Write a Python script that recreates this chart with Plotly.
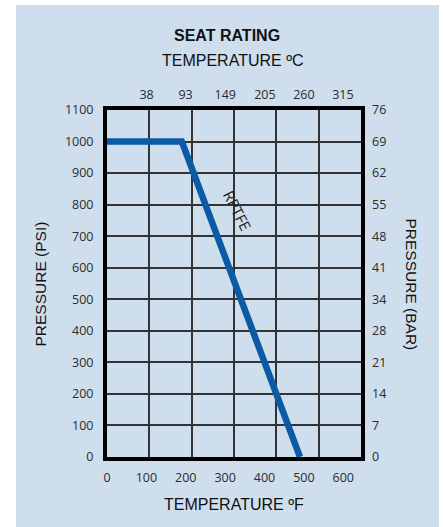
import plotly.graph_objects as go

# ---- data ----
temp_f = [0, 190, 490]
pressure_psi = [1000, 1000, 0]
series_name = "RPTFE"
series_label_temp_f = 332
series_label_psi = 780

f_ticks = [0, 100, 200, 300, 400, 500, 600]
c_labels = [38, 93, 149, 205, 260, 315]
psi_ticks = [0, 100, 200, 300, 400, 500, 600, 700, 800, 900, 1000, 1100]
bar_labels = [0, 7, 14, 21, 28, 34, 41, 48, 55, 62, 69, 76]

title_main = "SEAT RATING"
title_top = "TEMPERATURE ºC"
title_bottom = "TEMPERATURE ºF"
title_left = "PRESSURE (PSI)"
title_right = "PRESSURE (BAR)"

# ---- style ----
BG = "#cedeed"
LINE_BLUE = "#0b5aa6"
GRID = "#333333"
TICK_FONT = dict(family="Open Sans", size=12.5, color="#2b2b2b")
TITLE_FONT = dict(family="Liberation Sans", size=16, color="#111111")

W, H = 444, 527
ML, MR, MT, MB = 107, 83, 110, 70
PW, PH = W - ML - MR, H - MT - MB
x_range = [0, 645]


def px_x(p):
    return (p - ML) / PW


def px_y(p):
    return (H - MB - p) / PH


fig = go.Figure()
fig.add_trace(go.Scatter(
    x=temp_f, y=pressure_psi, mode="lines", name=series_name,
    line=dict(color=LINE_BLUE, width=6.5), showlegend=False, hoverinfo="skip",
))
# empty helper traces so that the overlay axes get drawn
for xa, ya in (("x2", "y"), ("x3", "y"), ("x", "y2")):
    fig.add_trace(go.Scatter(x=[], y=[], xaxis=xa, yaxis=ya, mode="lines",
                             showlegend=False, hoverinfo="skip"))

fig.update_layout(
    width=W, height=H,
    margin=dict(l=ML, r=MR, t=MT, b=MB, pad=0),
    paper_bgcolor="white",
    plot_bgcolor="white",
    showlegend=False,
    xaxis=dict(
        range=x_range, tickmode="array", tickvals=f_ticks,
        ticktext=[str(v) for v in f_ticks],
        showgrid=False, zeroline=False, showline=True, mirror=True,
        linewidth=4, linecolor="black", ticks="", tickfont=TICK_FONT,
        ticklabelstandoff=6,
    ),
    xaxis2=dict(
        overlaying="x", side="top", range=x_range, tickmode="array",
        tickvals=[c * 9 / 5 + 32 for c in c_labels],
        ticktext=[str(c) for c in c_labels],
        showgrid=False, zeroline=False, showline=False, ticks="",
        tickfont=TICK_FONT, ticklabelstandoff=8,
    ),
    xaxis3=dict(
        overlaying="x", range=[f_ticks[0], f_ticks[-1]], tickmode="array",
        tickvals=f_ticks, showgrid=True, gridcolor=GRID, gridwidth=1.5,
        showticklabels=False, zeroline=False, showline=False, ticks="",
    ),
    yaxis=dict(
        range=[psi_ticks[0], psi_ticks[-1]], tickmode="array",
        tickvals=psi_ticks, ticktext=[str(v) for v in psi_ticks],
        showgrid=True, gridcolor=GRID, gridwidth=1.5,
        zeroline=False, showline=True, mirror=True, linewidth=4,
        linecolor="black", ticks="", tickfont=TICK_FONT,
        ticklabelstandoff=7,
    ),
    yaxis2=dict(
        overlaying="y", side="right", range=[psi_ticks[0], psi_ticks[-1]],
        tickmode="array", tickvals=psi_ticks,
        ticktext=[str(v) for v in bar_labels],
        showgrid=False, zeroline=False, showline=False, ticks="",
        tickfont=TICK_FONT, ticklabelstandoff=10,
    ),
)

# light blue panel behind everything
fig.add_shape(
    type="rect", xref="paper", yref="paper", layer="below",
    x0=px_x(16), x1=px_x(439), y0=px_y(527), y1=px_y(5),
    fillcolor=BG, line=dict(width=0),
)

ann = []
ann.append(dict(text="<b>" + title_main + "</b>", x=px_x(227), y=px_y(35),
                font=dict(TITLE_FONT, size=16)))
ann.append(dict(text=title_top, x=px_x(233), y=px_y(61), font=TITLE_FONT))
ann.append(dict(text=title_bottom, x=px_x(234), y=px_y(504), font=TITLE_FONT))
ann.append(dict(text=title_left, x=px_x(40), y=px_y(284.5), textangle=-90,
                font=dict(TITLE_FONT, size=15.5)))
ann.append(dict(text=title_right, x=px_x(411.5), y=px_y(284), textangle=90,
                font=dict(TITLE_FONT, size=15.5)))
for a in ann:
    a.update(xref="paper", yref="paper", showarrow=False,
             xanchor="center", yanchor="middle")
    fig.add_annotation(**a)

fig.add_annotation(
    text=series_name, x=series_label_temp_f, y=series_label_psi,
    xref="x", yref="y", showarrow=False, textangle=63,
    font=dict(family="Open Sans", size=15, color="#222222"),
)

fig.write_html(
    "out.html",
    config={"displayModeBar": False},
    post_script="document.body.style.margin='0';document.body.style.padding='0';",
)
